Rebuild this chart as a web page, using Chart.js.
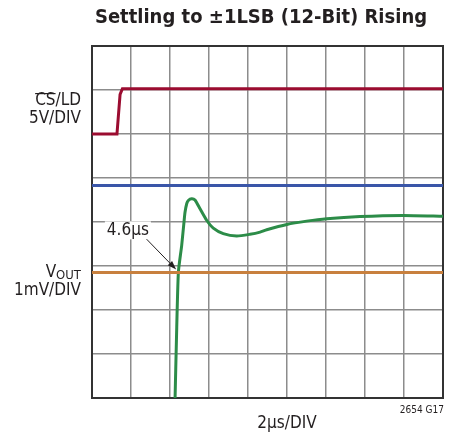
<!DOCTYPE html>
<html>
<head>
<meta charset="utf-8">
<script src="https://cdn.jsdelivr.net/npm/chart.js@4/dist/chart.umd.min.js"></script>
<style>
  body { margin: 0; background: #fff; }
  canvas { display: block; }
</style>
</head>
<body>
<canvas id="scope" width="454" height="434"></canvas>
<script>
/*------------------------------*/
/*   DATA (x in µs, y in DIV)   */
/*------------------------------*/
var csldX = [0, 1.28, 1.44, 1.56, 18]
var csldY = [6.0, 6.0, 6.9, 7.03, 7.03]

var voutX = [4.26, 4.33, 4.43, 4.60, 4.72, 4.77, 4.86, 4.94, 5.11, 5.28, 5.54, 5.88, 6.22, 6.73, 7.42, 8.10, 8.62, 8.96, 9.99, 11.01, 12.04, 13.74, 15.95, 18.0]
var voutY = [0, 1.32, 2.86, 3.47, 4.01, 4.22, 4.42, 4.49, 4.53, 4.50, 4.30, 4.04, 3.86, 3.735, 3.68, 3.72, 3.77, 3.825, 3.945, 4.02, 4.075, 4.125, 4.15, 4.13]

var upperBand = 4.83   // blue line
var lowerBand = 2.85   // orange line

var xRange = [0, 18]
var yRange = [0, 8]

var crossing = {x: 4.42, y: 2.85, label: '4.6µs', labelX: 1.84, labelY: 3.81, tailX: 2.8, tailY: 3.61}

function pts(xs, ys) {
  return xs.map(function (x, i) { return {x: x, y: ys[i]} })
}

var FONT = '"Liberation Sans Narrow", "DejaVu Sans Condensed", "Roboto", sans-serif'

var textPlugin = {
  id: 'scopeText',
  beforeDatasetsDraw: function (chart) {
    var a = chart.chartArea, c = chart.ctx
    c.save()
    c.strokeStyle = '#333'
    c.lineWidth = 2
    c.strokeRect(a.left, a.top, a.right - a.left, a.bottom - a.top)
    c.restore()
  },
  afterDatasetsDraw: function (chart) {
    var c = chart.ctx, xs = chart.scales.x, ys = chart.scales.y
    c.save()
    c.fillStyle = '#231f20'
    c.textBaseline = 'middle'

    // title
    c.font = 'bold 20px ' + FONT
    c.textAlign = 'center'
    c.fillText('Settling to ±1LSB (12-Bit) Rising', 261, 18)

    // left labels
    c.font = '17px ' + FONT
    c.textAlign = 'right'
    c.fillText('CS/LD', 81, 101)
    var wAll = c.measureText('CS/LD').width
    var wCS = c.measureText('CS').width
    c.fillRect(81 - wAll, 93, wCS, 1.2)
    c.fillText('5V/DIV', 81, 119)

    c.font = '13px ' + FONT
    var wOut = c.measureText('OUT').width
    c.fillText('OUT', 81, 276)
    c.font = '17px ' + FONT
    c.fillText('V', 81 - wOut, 273)
    c.fillText('1mV/DIV', 81, 291)

    // bottom labels
    c.textAlign = 'center'
    c.fillText('2µs/DIV', 287, 424)
    c.font = '10px ' + FONT
    c.textAlign = 'right'
    c.fillText('2654 G17', 444, 410)

    // annotation
    var lx = xs.getPixelForValue(crossing.labelX), ly = ys.getPixelForValue(crossing.labelY)
    c.font = '17px ' + FONT
    c.textAlign = 'center'
    var lw = c.measureText(crossing.label).width
    c.fillStyle = '#fff'
    c.fillRect(lx - lw / 2 - 2, ly - 9, lw + 4, 18)
    c.fillStyle = '#231f20'
    c.fillText(crossing.label, lx, ly)

    var x0 = xs.getPixelForValue(crossing.tailX), y0 = ys.getPixelForValue(crossing.tailY)
    var x1 = xs.getPixelForValue(crossing.x) - 2, y1 = ys.getPixelForValue(crossing.y) - 3
    var ang = Math.atan2(y1 - y0, x1 - x0)
    c.strokeStyle = '#231f20'
    c.lineWidth = 1
    c.beginPath()
    c.moveTo(x0, y0)
    c.lineTo(x1 - 6 * Math.cos(ang), y1 - 6 * Math.sin(ang))
    c.stroke()
    c.beginPath()
    c.moveTo(x1, y1)
    c.lineTo(x1 - 9 * Math.cos(ang) + 3 * Math.sin(ang), y1 - 9 * Math.sin(ang) - 3 * Math.cos(ang))
    c.lineTo(x1 - 9 * Math.cos(ang) - 3 * Math.sin(ang), y1 - 9 * Math.sin(ang) + 3 * Math.cos(ang))
    c.closePath()
    c.fill()
    c.restore()
  }
}

var ctx_scope = document.getElementById('scope').getContext('2d')

var data_scope = {
  datasets: [
    {
      label: 'upper',
      data: pts(xRange, [upperBand, upperBand]),
      borderColor: 'rgb(58, 86, 168)',
      borderWidth: 3
    },
    {
      label: 'lower',
      data: pts(xRange, [lowerBand, lowerBand]),
      borderColor: 'rgb(200, 128, 62)',
      borderWidth: 3
    },
    {
      label: 'CS/LD',
      data: pts(csldX, csldY),
      borderColor: 'rgb(155, 12, 48)',
      borderWidth: 3
    },
    {
      label: 'VOUT',
      data: pts(voutX, voutY),
      borderColor: 'rgb(44, 140, 72)',
      borderWidth: 3,
      tension: 0.2
    }
  ]
}

var config_scope = {
  type: 'line',
  data: data_scope,
  options: {
    responsive: false,
    animation: false,
    layout: { padding: { left: 92, right: 11, top: 46, bottom: 36 } },
    elements: { point: { radius: 0 }, line: { fill: false } },
    plugins: { legend: { display: false }, tooltip: { enabled: false }, title: { display: false } },
    scales: {
      x: {
        type: 'linear', min: xRange[0], max: xRange[1],
        ticks: { display: false, stepSize: 2 },
        grid: { color: '#8c8c8c', lineWidth: 1.5, drawTicks: false },
        border: { display: false }
      },
      y: {
        type: 'linear', min: yRange[0], max: yRange[1],
        ticks: { display: false, stepSize: 1 },
        grid: { color: '#8c8c8c', lineWidth: 1.5, drawTicks: false },
        border: { display: false }
      }
    }
  },
  plugins: [textPlugin]
}
var graph_scope = new Chart(ctx_scope, config_scope)
</script>
</body>
</html>
